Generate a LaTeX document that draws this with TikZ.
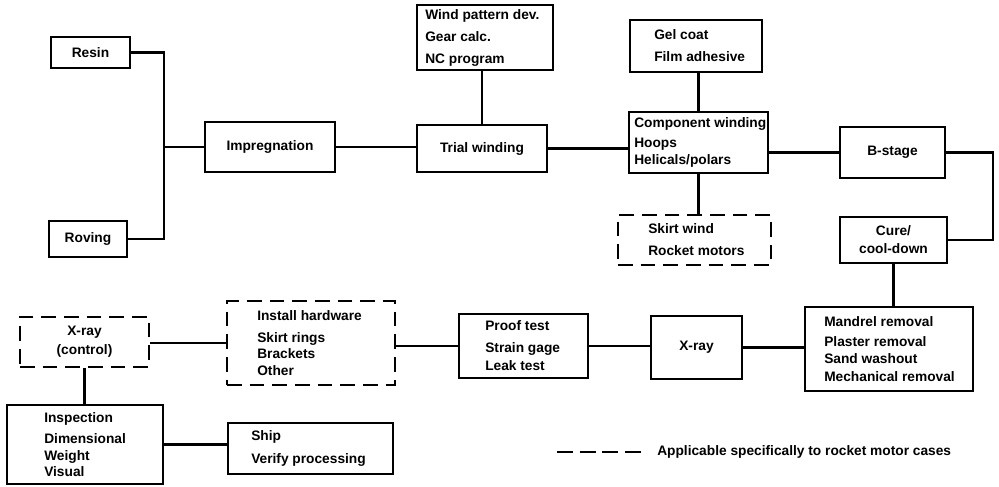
\documentclass[tikz,border=0pt]{standalone}
\usepackage{fontspec}
\setmainfont{Liberation Sans}
\usetikzlibrary{fit,calc}
\newcommand{\dgfont}{\fontsize{10.3}{12.5}\selectfont\bfseries}
\begin{document}
\begin{tikzpicture}[x=0.75pt,y=-0.75pt,
 box/.style={draw,line width=1.5pt,inner sep=0pt},
 dbox/.style={box,dash pattern=on 11pt off 6pt},
 txt/.style={inner sep=0pt,align=left,anchor=west,font=\dgfont},
 ctxt/.style={inner sep=0pt,align=center,anchor=center,font=\dgfont},
 ln/.style={line width=1.6pt}]
\useasboundingbox[fill=white] (0,0) rectangle (999,486);
% boxes
\node[box,fit={(51,37) (130,68)}] (resin) {};
\node[ctxt] (resint) at (resin.center) {Resin};
\node[box,fit={(49,221) (127,257)}] (roving) {};
\node[ctxt] (rovingt) at (roving.center) {Roving};
\node[box,fit={(205,122) (335,172)}] (impr) {};
\node[ctxt] (imprt) at (impr.center) {Impregnation};
\node[box,fit={(417,125) (547,172)}] (trial) {};
\node[ctxt] (trialt) at (trial.center) {Trial winding};
\node[box,fit={(417,5) (553,70)}] (wind) {};
\node[txt] (windt) at ($(wind.west)+(9,0)$) {Wind pattern dev.\\[4pt]Gear calc.\\[4pt]NC program};
\node[box,fit={(630,20) (762,72)}] (gel) {};
\node[txt] (gelt) at ($(gel.west)+(25,0)$) {Gel coat\\[4pt]Film adhesive};
\node[box,fit={(629,112) (768,173)}] (comp) {};
\node[txt] (compt) at ($(comp.west)+(6,0)$) {Component winding\\[2.5pt]Hoops\\Helicals/polars};
\node[dbox,fit={(618,215) (771,265)}] (skirt) {};
\node[txt] (skirtt) at ($(skirt.west)+(31,0)$) {Skirt wind\\[4pt]Rocket motors};
\node[box,fit={(840,127) (945,178)}] (bstage) {};
\node[ctxt] (bstaget) at (bstage.center) {B-stage};
\node[box,fit={(840,217) (947,263)}] (cure) {};
\node[ctxt] (curet) at (cure.center) {Cure/\\[1pt]cool-down};
\node[box,fit={(805,307) (973,391)}] (mandrel) {};
\node[txt] (mandrelt) at ($(mandrel.west)+(20,0)$) {Mandrel removal\\[3pt]Plaster removal\\Sand washout\\[1pt]Mechanical removal};
\node[box,fit={(651,316) (742,379)}] (xray) {};
\node[ctxt] (xrayt) at (xray.center) {X-ray};
\node[box,fit={(459,314) (588,378)}] (proof) {};
\node[txt] (prooft) at ($(proof.west)+(27,0)$) {Proof test\\[4pt]Strain gage\\[1pt]Leak test};
\node[dbox,fit={(227,301) (395,385)}] (install) {};
\node[txt] (installt) at ($(install.west)+(31,0)$) {Install hardware\\[4pt]Skirt rings\\Brackets\\Other};
\node[dbox,fit={(20,317) (149,367)}] (xctl) {};
\node[ctxt] (xctlt) at (xctl.center) {X-ray\\[2pt](control)};
\node[box,fit={(7,405) (163,484)}] (insp) {};
\node[txt] (inspt) at ($(insp.west)+(38,0)$) {Inspection\\[3.5pt]Dimensional\\Weight\\Visual};
\node[box,fit={(228,423) (393,474)}] (ship) {};
\node[txt] (shipt) at ($(ship.west)+(24,0)$) {Ship\\[5pt]Verify processing};
% connectors
\coordinate (j1) at (164,147);
\draw[ln] (resin.east) -| (j1);
\draw[ln] (roving.east) -| (j1);
\draw[ln] (j1) -- (impr.west);
\draw[ln] (impr.east) -- (impr.east -| trial.west);
\draw[ln] (trial.north) -- (trial.north |- wind.south);
\draw[ln] (trial.east) -- (trial.east -| comp.west);
\draw[ln] (comp.north) -- (comp.north |- gel.south);
\draw[ln] (comp.south) -- (comp.south |- skirt.north);
\draw[ln] (bstage.west) -- (bstage.west -| comp.east);
\draw[ln] (bstage.east) -- ++(47,0) |- (cure.east);
\draw[ln] (cure.south) -- (cure.south |- mandrel.north);
\draw[ln] (xray.east) -- (xray.east -| mandrel.west);
\draw[ln] (proof.east) -- (proof.east -| xray.west);
\draw[ln] (proof.west) -- (proof.west -| install.east);
\draw[ln] (install.west) -- (install.west -| xctl.east);
\draw[ln] (xctl.south) -- (xctl.south |- insp.north);
\draw[ln] (insp.east) -- (insp.east -| ship.west);
% legend
\node[txt] (legt) at (657,452) {Applicable specifically to rocket motor cases};
\coordinate (legs) at (557,452);
\draw[line width=1.3pt,dash pattern=on 12pt off 5pt] (legs) -- ($(legt.west)+(-11,0)$);
\end{tikzpicture}
\end{document}
